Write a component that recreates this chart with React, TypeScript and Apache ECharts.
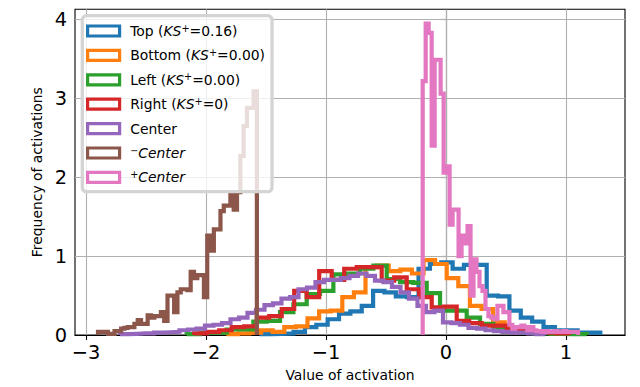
import React, { useEffect, useRef } from 'react';
import * as echarts from 'echarts';

// ---------- data ----------
const X_TICKS = [-3, -2, -1, 0, 1];
const Y_TICKS = [0, 1, 2, 3, 4];
const X_RANGE = [-3.0917, 1.4917];
const Y_RANGE = [0, 4.13];

const SERIES_NAMES = [
  'Top (KS+=0.16)',
  'Bottom (KS+=0.00)',
  'Left (KS+=0.00)',
  'Right (KS+=0)',
  'Center',
  '−Center',
  '+Center',
];

// first bin edge and bin width of each histogram
const BIN_STARTS = [-1.5542, -1.8308, -2.1608, -2.0983, -2.7167, -2.9, -0.1942];
const BIN_WIDTHS = [0.09467, 0.09667, 0.11111, 0.10417, 0.070833, 0.027583, 0.024917];

const TOP = [0.01, 0.015, 0.02, 0.04, 0.10, 0.13, 0.20, 0.27, 0.30, 0.37, 0.56, 0.54, 0.49, 0.48, 0.84,
  0.90, 0.92, 0.84, 0.89, 0.89, 0.50, 0.49, 0.31, 0.22, 0.17, 0.10, 0.06, 0.06, 0.03, 0.03];
const BOTTOM = [0.01, 0.02, 0.03, 0.06, 0.04, 0.10, 0.11, 0.21, 0.30, 0.31, 0.48, 0.54, 0.86, 0.88, 0.81,
  0.83, 0.78, 0.95, 0.90, 0.72, 0.62, 0.37, 0.33, 0.16, 0.10, 0.07, 0.05, 0.03, 0.02, 0.02];
const LEFT = [0.01, 0.03, 0.03, 0.07, 0.07, 0.17, 0.18, 0.29, 0.39, 0.52, 0.56, 0.77, 0.78, 0.84, 0.88,
  0.71, 0.67, 0.66, 0.53, 0.31, 0.31, 0.22, 0.14, 0.085, 0.05, 0.03, 0.02, 0.015, 0.01, 0.01];
const RIGHT = [0.02, 0.04, 0.06, 0.10, 0.11, 0.22, 0.24, 0.33, 0.56, 0.48, 0.81, 0.70, 0.84, 0.86, 0.86,
  0.69, 0.73, 0.58, 0.48, 0.35, 0.36, 0.18, 0.15, 0.12, 0.12, 0.07, 0.06, 0.05, 0.03, 0.02];
const CENTER = [0.01, 0.015, 0.02, 0.02, 0.03, 0.035, 0.04, 0.06, 0.07, 0.08, 0.12, 0.13, 0.15, 0.20, 0.22,
  0.28, 0.32, 0.38, 0.40, 0.46, 0.48, 0.58, 0.60, 0.67, 0.70, 0.70, 0.72, 0.75, 0.78, 0.75,
  0.69, 0.67, 0.61, 0.54, 0.46, 0.37, 0.29, 0.31, 0.16, 0.15, 0.13, 0.09, 0.08, 0.06, 0.05,
  0.04, 0.03, 0.03, 0.02, 0.01];
const MINUS_CENTER = [0.04, 0.04, 0.04, 0.015, 0.015, 0.05, 0.05, 0.08, 0.09, 0.10,
  0.10, 0.14, 0.19, 0.14, 0.14, 0.25, 0.22, 0.24, 0.24, 0.29,
  0.18, 0.50, 0.50, 0.29, 0.54, 0.58, 0.58, 0.57, 0.80, 0.72,
  0.76, 0.76, 0.48, 1.26, 1.07, 1.34, 1.34, 1.57, 1.64, 1.64,
  1.81, 1.59, 1.81, 2.27, 2.65, 2.88, 2.88, 3.09];
const PLUS_CENTER = [3.22, 3.95, 3.83, 2.40, 3.49, 3.49, 3.06, 2.06, 2.14, 1.40,
  1.59, 1.59, 1.00, 1.26, 1.16, 1.38, 0.50, 0.96, 0.80, 0.62,
  0.56, 0.33, 0.24, 0.22, 0.20, 0.37, 0.37, 0.29, 0.29, 0.13,
  0.08, 0.10, 0.10, 0.12, 0.10, 0.06, 0.10, 0.06, 0.05, 0.05,
  0.04, 0.05, 0.04, 0.04, 0.05, 0.04, 0.04, 0.05, 0.04, 0.04, 0.04, 0.04];

const COUNTS = [TOP, BOTTOM, LEFT, RIGHT, CENTER, MINUS_CENTER, PLUS_CENTER];

// ---------- styles ----------
const COLORS = ['#1f77b4', '#ff7f0e', '#2ca02c', '#d62728', '#9467bd', '#8c564b', '#e377c2'];
const FONT = 'DejaVu Sans';
const LEGEND_LABELS = [
  '{g| }{n|Top (}{i|KS}{s|+}{n|=0.16)}',
  '{g| }{n|Bottom (}{i|KS}{s|+}{n|=0.00)}',
  '{g| }{n|Left (}{i|KS}{s|+}{n|=0.00)}',
  '{g| }{n|Right (}{i|KS}{s|+}{n|=0)}',
  '{g| }{n|Center}',
  '{g| }{s|−}{i|Center}',
  '{g| }{s|+}{i|Center}',
];

function stepOutline(start: number, width: number, counts: number[]) {
  const pts: number[][] = [[start, 0]];
  counts.forEach((c, i) => {
    const a = start + i * width;
    pts.push([a, c], [a + width, c]);
  });
  pts.push([start + counts.length * width, 0]);
  return pts;
}

const fmtTick = (v: number) => (v < 0 ? '\u2212' + Math.abs(v) : String(v));

function buildOption() {
  const histSeries = SERIES_NAMES.map((name, k) => ({
    name,
    type: 'line',
    data: stepOutline(BIN_STARTS[k], BIN_WIDTHS[k], COUNTS[k]),
    showSymbol: false,
    symbol: 'none',
    silent: true,
    z: 2,
    color: COLORS[k],
    lineStyle: { width: 4.2, color: COLORS[k], join: 'miter', cap: 'butt' },
  }));

  const gridSeries = {
    name: '_grid',
    type: 'line',
    data: [],
    silent: true,
    markLine: {
      z: 1,
      silent: true,
      symbol: ['none', 'none'],
      label: { show: false },
      lineStyle: { color: '#b0b0b0', width: 1.1, type: 'solid' },
      emphasis: { disabled: true },
      data: [
        ...X_TICKS.map((v) => ({ xAxis: v })),
        ...Y_TICKS.filter((v) => v > 0).map((v) => ({ yAxis: v })),
      ],
    },
  };

  return {
    animation: false,
    backgroundColor: '#ffffff',
    textStyle: { fontFamily: FONT },
    grid: {
      left: 75,
      right: 15,
      top: 9.3,
      bottom: 51,
      show: true,
      borderColor: '#000',
      borderWidth: 1.1,
      backgroundColor: 'transparent',
    },
    xAxis: {
      type: 'value',
      min: X_RANGE[0],
      max: X_RANGE[1],
      name: 'Value of activation',
      nameLocation: 'middle',
      nameGap: 33,
      nameTextStyle: { fontSize: 13.9, color: '#000', fontFamily: FONT },
      axisLine: { show: true, onZero: false, lineStyle: { color: '#000', width: 1.1 } },
      axisTick: { show: true, inside: false, length: 4.9, lineStyle: { color: '#000', width: 1.1 }, customValues: X_TICKS },
      axisLabel: { show: true, margin: 8, fontSize: 19.4, color: '#000', fontFamily: FONT, customValues: X_TICKS, formatter: fmtTick },
      splitLine: { show: false },
    },
    yAxis: {
      type: 'value',
      min: Y_RANGE[0],
      max: Y_RANGE[1],
      name: 'Frequency of activations',
      nameLocation: 'middle',
      nameGap: 27,
      nameTextStyle: { fontSize: 13.9, color: '#000', fontFamily: FONT },
      axisLine: { show: true, lineStyle: { color: '#000', width: 1.1 } },
      axisTick: { show: true, inside: false, length: 4.9, lineStyle: { color: '#000', width: 1.1 }, customValues: Y_TICKS },
      axisLabel: { show: true, margin: 8, fontSize: 19.4, color: '#000', fontFamily: FONT, customValues: Y_TICKS, formatter: fmtTick },
      splitLine: { show: false },
    },
    legend: {
      orient: 'vertical',
      left: 82.3,
      top: 15.7,
      padding: [6.3, 7, 5.3, 3.7],
      itemGap: 6.4,
      itemWidth: 32,
      itemHeight: 10,
      selectedMode: false,
      backgroundColor: 'rgba(255,255,255,0.8)',
      borderColor: '#d4d4d4',
      borderWidth: 3.3,
      borderRadius: 4,
      data: SERIES_NAMES.map((name, k) => ({
        name,
        icon: 'rect',
        itemStyle: { color: '#ffffff', borderColor: COLORS[k], borderWidth: 3.2 },
      })),
      formatter: (name: string) => LEGEND_LABELS[SERIES_NAMES.indexOf(name)],
      textStyle: {
        fontFamily: FONT,
        fontSize: 13.9,
        color: '#000',
        lineHeight: 18,
        rich: {
          g: { width: 5.6, fontSize: 13.9, lineHeight: 18 },
          n: { fontSize: 13.9, color: '#000', fontFamily: FONT, lineHeight: 18 },
          i: { fontSize: 13.9, color: '#000', fontFamily: FONT, fontStyle: 'italic', lineHeight: 18 },
          s: { fontSize: 9.7, color: '#000', fontFamily: FONT, verticalAlign: 'top', padding: [1, 0, 0, 0] },
        },
      },
    },
    series: [gridSeries, ...histSeries],
  };
}

export default function App() {
  const ref = useRef<HTMLDivElement>(null);
  useEffect(() => {
    const chart = echarts.init(ref.current!, null, { renderer: 'svg' });
    chart.setOption(buildOption() as any);
    return () => chart.dispose();
  }, []);
  return (
    <div
      ref={ref}
      style={{ position: 'fixed', left: 0, top: 0, width: 640, height: 387, background: '#fff' }}
    />
  );
}
